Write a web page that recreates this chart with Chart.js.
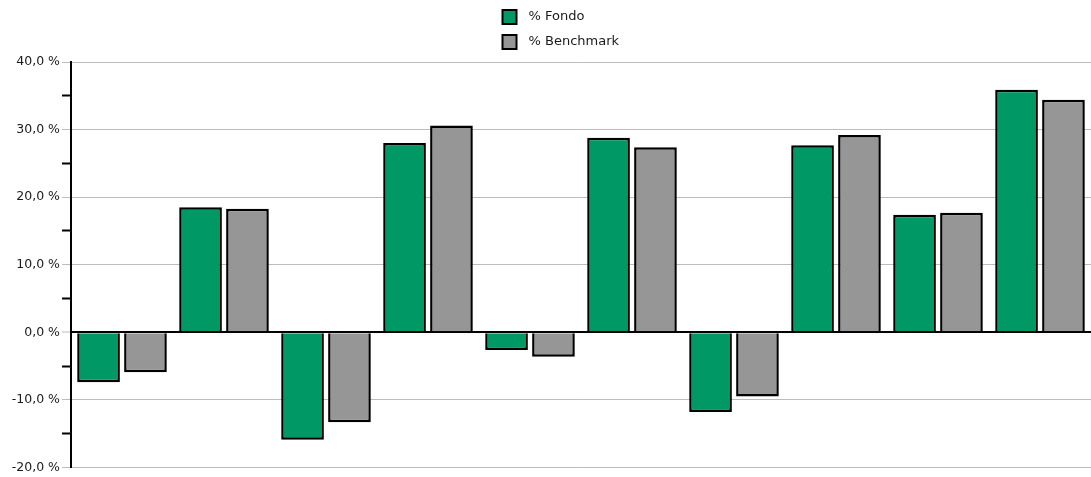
<!DOCTYPE html>
<html>
<head>
<meta charset="utf-8">
<script src="https://cdn.jsdelivr.net/npm/chart.js@4/dist/chart.umd.min.js"></script>
<style>
	html, body { margin: 0; padding: 0; background: #fff; }
	#wrap { width: 1091px; height: 477px; }
</style>
</head>
<body>
<div id="wrap"><canvas id="chart"></canvas></div>
<script>
const categories = ['1', '2', '3', '4', '5', '6', '7', '8', '9', '10']
const fondo = [-7.4, 18.5, -15.9, 28.0, -2.6, 28.8, -11.8, 27.7, 17.4, 35.9]
const benchmark = [-5.9, 18.3, -13.3, 30.6, -3.6, 27.4, -9.5, 29.2, 17.7, 34.4]
const yTicks = [-20, -10, 0, 10, 20, 30, 40]

const FONT = "'DejaVu Sans', sans-serif"

// legend drawn as a vertical list, boxes aligned on the left
const stackedLegend = {
	id: 'stackedLegend',
	afterDraw(chart) {
		const ctx = chart.ctx
		const left = chart.width / 2 - 43
		ctx.save()
		ctx.font = '13px ' + FONT
		ctx.textBaseline = 'middle'
		chart.data.datasets.forEach((ds, i) => {
			const cy = 17 + i * 25
			ctx.fillStyle = ds.backgroundColor
			ctx.fillRect(left, cy - 7, 14, 14)
			ctx.lineWidth = 2
			ctx.strokeStyle = '#000'
			ctx.strokeRect(left, cy - 7, 14, 14)
			ctx.fillStyle = '#1a1a1a'
			ctx.fillText(ds.label, left + 26, cy)
		})
		ctx.restore()
	}
}

const isMajor = v => yTicks.includes(v)

new Chart(document.getElementById('chart'), {
	type: 'bar',
	data: {
		labels: categories,
		datasets: [
			{
				label: '% Fondo',
				data: fondo,
				backgroundColor: '#009865',
				borderColor: '#000',
				borderWidth: 2.5
			},
			{
				label: '% Benchmark',
				data: benchmark,
				backgroundColor: '#969696',
				borderColor: '#000',
				borderWidth: 2.5
			}
		]
	},
	plugins: [stackedLegend],
	options: {
		responsive: true,
		maintainAspectRatio: false,
		animation: false,
		layout: { padding: { top: 62, bottom: 9, left: 0, right: 0 } },
		categoryPercentage: 0.92,
		barPercentage: 0.91,
		plugins: {
			legend: { display: false },
			tooltip: { enabled: false }
		},
		scales: {
			x: { display: false },
			y: {
				min: -20,
				max: 40,
				afterFit(scale) { scale.width = 71 },
				border: { color: '#000', width: 2 },
				grid: {
					tickLength: 9,
					color: c => c.tick.value === 0 ? '#000' : (isMajor(c.tick.value) ? '#bcbcbc' : 'rgba(0,0,0,0)'),
					lineWidth: c => c.tick.value === 0 ? 2 : 1,
					tickColor: c => isMajor(c.tick.value) ? '#bcbcbc' : '#000',
					tickWidth: c => isMajor(c.tick.value) ? 1 : 2
				},
				ticks: {
					stepSize: 5,
					autoSkip: false,
					padding: 2,
					color: '#1a1a1a',
					font: { family: FONT, size: 12.5 },
					callback: v => isMajor(v) ? v.toFixed(1).replace('.', ',') + ' %' : ''
				}
			}
		}
	}
})
</script>
</body>
</html>
